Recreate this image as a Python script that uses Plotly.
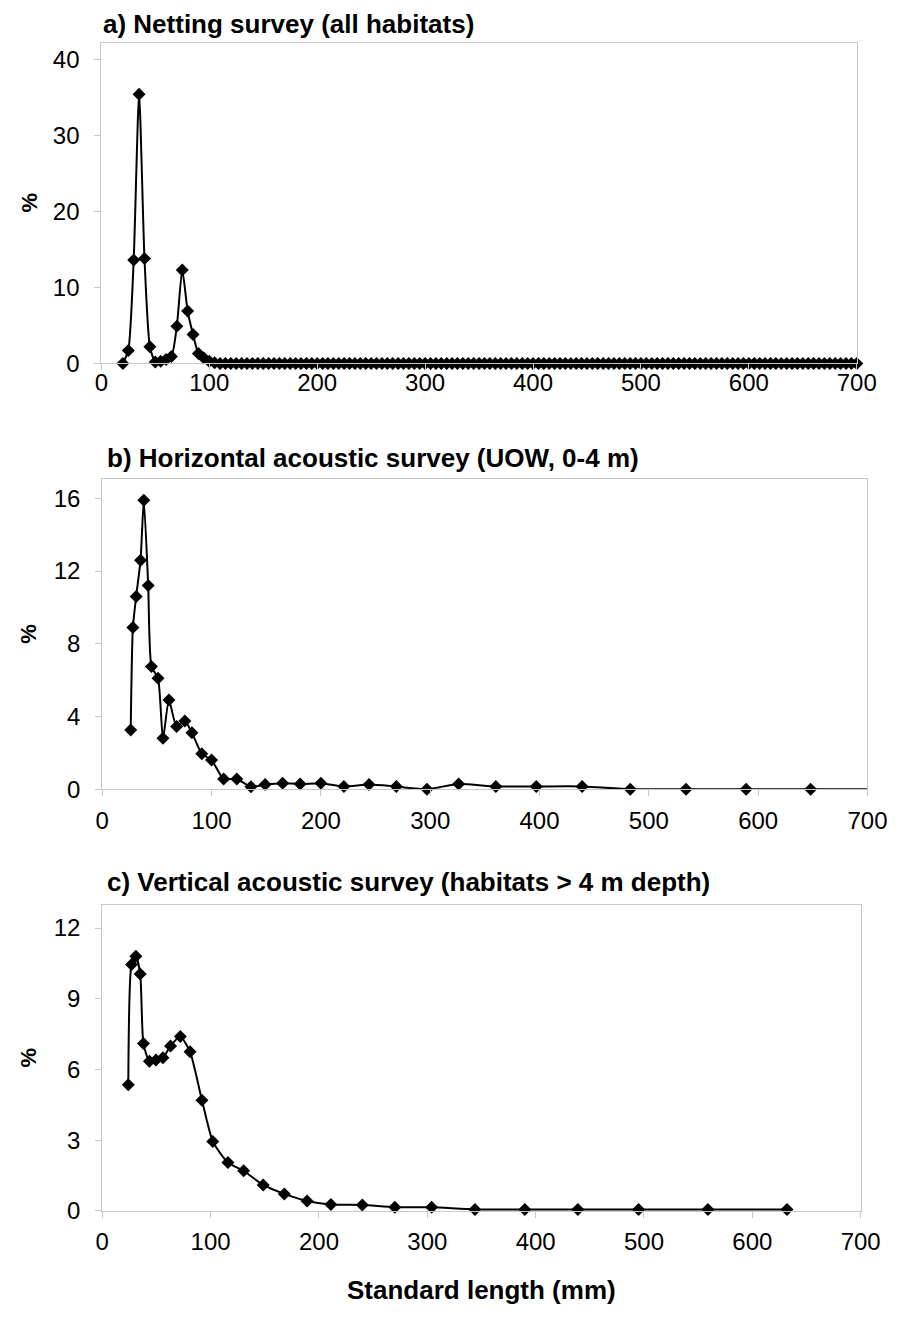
import plotly.graph_objects as go

PAGE_W, PAGE_H = 910, 1322
OFF = 8                      # default body margin of the page
W, H = PAGE_W - 2 * OFF, PAGE_H - 2 * OFF

# ---- Panel a: netting survey ----
a_len = [20, 25, 30, 35, 40, 45, 50, 55, 60, 65, 70, 75, 80, 85, 90, 95, 100, 105] + list(range(110, 701, 5))
a_pct = [0.0, 1.7, 13.6, 35.4, 13.8, 2.2, 0.2, 0.3, 0.5, 0.9, 4.9, 12.3, 6.9, 3.8, 1.3, 0.7, 0.3, 0.1] + [0.0] * len(range(110, 701, 5))

# ---- Panel b: horizontal acoustic survey ----
b_len = [26, 28, 31, 35, 38, 42, 45, 51, 55.5, 61, 68, 75.5, 82, 91, 100, 111, 123, 136,
         149, 165, 181, 200, 221, 244, 269, 297, 326, 360, 397, 439, 483, 534, 589, 648]
b_pct = [3.25, 8.9, 10.6, 12.6, 15.9, 11.2, 6.75, 6.1, 2.8, 4.9, 3.45, 3.75, 3.1, 1.95, 1.6, 0.56, 0.56, 0.13,
         0.25, 0.33, 0.28, 0.33, 0.14, 0.25, 0.14, 0.0, 0.28, 0.15, 0.15, 0.15, 0.0, 0.0, 0.0, 0.0]
b_tail_len = [648, 707]
b_tail_pct = [0.0, 0.0]

# ---- Panel c: vertical acoustic survey ----
c_len = [24, 27, 31, 35, 38, 43.5, 49.5, 56, 63, 72, 81, 92, 102, 116, 130.5, 148.5, 168,
         189, 211, 240, 270, 304, 344, 390, 439, 495, 559, 632]
c_pct = [5.35, 10.45, 10.8, 10.05, 7.1, 6.35, 6.4, 6.5, 7.0, 7.4, 6.75, 4.7, 2.95, 2.05, 1.7, 1.1, 0.72,
         0.42, 0.27, 0.25, 0.16, 0.15, 0.06, 0.06, 0.06, 0.06, 0.06, 0.06]

x_ticks = [0, 100, 200, 300, 400, 500, 600, 700]
a_yticks = [0, 10, 20, 30, 40]
b_yticks = [0, 4, 8, 12, 16]
c_yticks = [0, 3, 6, 9, 12]

titles = ["a) Netting survey (all habitats)",
          "b) Horizontal acoustic survey (UOW, 0-4 m)",
          "c) Vertical acoustic survey (habitats > 4 m depth)"]
x_title = "Standard length (mm)"
y_title = "%"

FONT = "Liberation Sans, Arial, sans-serif"
GRAY = "#c8c8c8"

def px_x(p):   # page pixel -> paper fraction
    return (p - OFF) / W

def px_y(p):
    return 1 - (p - OFF) / H

# page-pixel boxes: (left, right, top, bottom)
boxes = [(97, 876, 43, 367), (98, 887, 484, 797), (98, 880, 914, 1223)]
xranges = [[0, 700], [0, 700], [0, 700]]
yranges = [[0, 42.2], [0, 17.05], [0, 12.98]]
yticks = [a_yticks, b_yticks, c_yticks]
xstand = [-8, 4, 3]

fig = go.Figure()

def add_series(xs, ys, idx, tail=None):
    xa = "x" if idx == 0 else f"x{idx+1}"
    ya = "y" if idx == 0 else f"y{idx+1}"
    lx, ly = list(xs), list(ys)
    if tail is not None:
        lx = lx + tail[0][1:]
        ly = ly + tail[1][1:]
    fig.add_trace(go.Scatter(x=lx, y=ly, mode="lines", xaxis=xa, yaxis=ya,
                             line=dict(color="black", width=2, shape="spline", smoothing=0.6),
                             cliponaxis=False, showlegend=False, hoverinfo="skip"))
    fig.add_trace(go.Scatter(x=xs, y=ys, mode="markers", xaxis=xa, yaxis=ya,
                             marker=dict(symbol="diamond", size=10, color="black"),
                             cliponaxis=False, showlegend=False))

add_series(a_len, a_pct, 0)
add_series(b_len, b_pct, 1, tail=(b_tail_len, b_tail_pct))
add_series(c_len, c_pct, 2)

layout = dict(width=W, height=H, margin=dict(l=0, r=0, t=0, b=0),
              paper_bgcolor="white", plot_bgcolor="white", showlegend=False,
              font=dict(family=FONT, color="black"))

for i, (l, r, t, b) in enumerate(boxes):
    xk = "xaxis" if i == 0 else f"xaxis{i+1}"
    yk = "yaxis" if i == 0 else f"yaxis{i+1}"
    ya = "y" if i == 0 else f"y{i+1}"
    xa = "x" if i == 0 else f"x{i+1}"
    layout[xk] = dict(domain=[px_x(l), px_x(r)], range=xranges[i], anchor=ya,
                      tickvals=x_ticks, ticks="outside", ticklen=6, tickcolor=GRAY,
                      showline=True, linecolor=GRAY, linewidth=1, mirror=True,
                      showgrid=False, zeroline=False, ticklabelstandoff=xstand[i],
                      tickfont=dict(size=24, family=FONT, color="black"))
    layout[yk] = dict(domain=[px_y(b), px_y(t)], range=yranges[i], anchor=xa,
                      tickvals=yticks[i], ticks="outside", ticklen=6, tickcolor=GRAY,
                      showline=True, linecolor=GRAY, linewidth=1, mirror=True,
                      showgrid=False, zeroline=False, ticklabelstandoff=10,
                      tickfont=dict(size=24, family=FONT, color="black"))

fig.update_layout(**layout)

ann = []
title_pos = [(97, 24), (101, 463), (101, 891)]
for (px, py), txt in zip(title_pos, titles):
    ann.append(dict(text=f"<b>{txt}</b>", x=px_x(px), y=px_y(py), xref="paper", yref="paper",
                    xanchor="left", yanchor="middle", showarrow=False,
                    font=dict(size=26, family=FONT, color="black")))
for (l, r, t, b) in boxes:
    ann.append(dict(text=f"<b>{y_title}</b>", x=px_x(22), y=px_y((t + b) / 2), xref="paper", yref="paper",
                    xanchor="center", yanchor="middle", textangle=-90, showarrow=False,
                    font=dict(size=22, family=FONT, color="black")))
ann.append(dict(text=f"<b>{x_title}</b>", x=px_x(489), y=px_y(1303), xref="paper", yref="paper",
                xanchor="center", yanchor="middle", showarrow=False,
                font=dict(size=26, family=FONT, color="black")))
fig.update_layout(annotations=ann)

fig.write_html("out.html", config={"displayModeBar": False})
